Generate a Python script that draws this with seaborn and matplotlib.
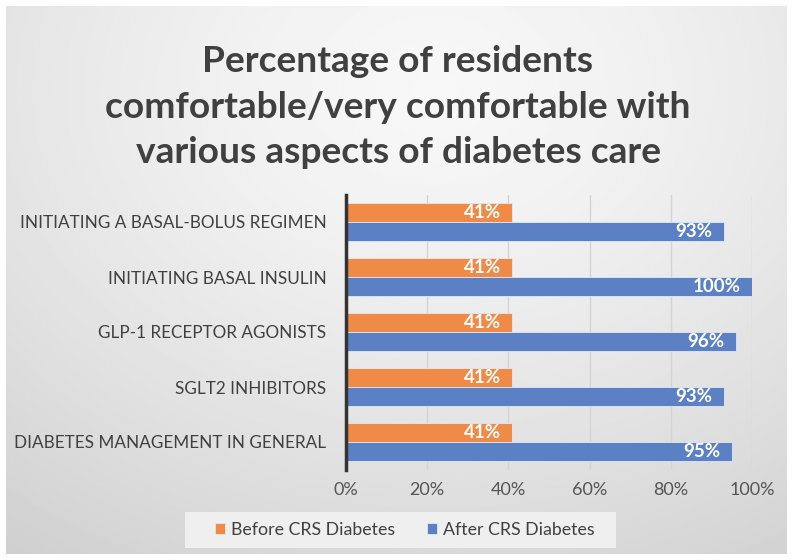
import numpy as np
import pandas as pd
import matplotlib
matplotlib.use("Agg")
import matplotlib.pyplot as plt
import matplotlib.patches as mpatches
import seaborn as sns

categories = ["INITIATING A BASAL-BOLUS REGIMEN", "INITIATING BASAL INSULIN",
              "GLP-1 RECEPTOR AGONISTS", "SGLT2 INHIBITORS",
              "DIABETES MANAGEMENT IN GENERAL"]
before = [41, 41, 41, 41, 41]
after = [93, 100, 96, 93, 95]
series = ["Before CRS Diabetes", "After CRS Diabetes"]
xticks = [0, 20, 40, 60, 80, 100]

df = pd.DataFrame({
    "category": categories * 2,
    "value": before + after,
    "series": [series[0]] * len(categories) + [series[1]] * len(categories),
})

sns.set_theme(style="white")
plt.rcParams["font.family"] = ["Lato", "DejaVu Sans"]

W, H = 793, 560
fig = plt.figure(figsize=(W / 100, H / 100), dpi=100)
fig.patch.set_facecolor("white")

# gradient background
bg = fig.add_axes([6 / W, 6 / H, 1 - 12 / W, 1 - 12 / H])
bg.set_zorder(-3)
yy, xx = np.mgrid[0:1:300j, 0:1:400j]
d = np.sqrt(((xx - 0.55) / 1.0) ** 2 + ((yy - 0.15) / 1.1) ** 2)
g = 0.97 - 0.17 * np.clip(d, 0, 1) ** 1.4
bg.imshow(g, cmap="gray", vmin=0, vmax=1, aspect="auto", extent=[0, 1, 1, 0])
bg.set_axis_off()

# legend background box
fig.patches.append(mpatches.Rectangle((185 / W, 1 - 548 / H), (616 - 185) / W, 36 / H,
                                      transform=fig.transFigure, facecolor="#efefef",
                                      edgecolor="none", zorder=-2))

colors = {series[0]: "#EF8A47", series[1]: "#5B80C3"}
ax = fig.add_axes([346 / W, 1 - 469.5 / H, (752 - 346) / W, (469.5 - 194.5) / H])
ax.patch.set_alpha(0)
sns.barplot(data=df, y="category", x="value", hue="series", order=categories,
            hue_order=series, palette=colors, saturation=1, width=0.69, ax=ax,
            edgecolor="#e4e9f2", linewidth=0.6, legend=True, orient="h")

ax.set_xlim(0, 100)
ax.set_xticks(xticks)
ax.set_xticklabels([f"{t}%" for t in xticks], fontsize=13, color="#555555")
ax.tick_params(axis="x", length=0, pad=9)
ax.tick_params(axis="y", length=0, pad=14)
for lbl in ax.get_yticklabels():
    lbl.set_fontsize(12.3)
    lbl.set_color("#404040")
ax.set_xlabel("")
ax.set_ylabel("")
ax.grid(axis="x", color="#d4d4d4", linewidth=1)
ax.set_axisbelow(True)
for s in ["top", "right", "bottom"]:
    ax.spines[s].set_visible(False)
ax.spines["left"].set_color("#333333")
ax.spines["left"].set_linewidth(2.5)

for cont in ax.containers:
    for bar in cont:
        w = bar.get_width()
        ax.text(w - 2.8, bar.get_y() + bar.get_height() / 2, f"{w:.0f}%",
                ha="right", va="center", color="white", fontsize=13.5,
                fontweight="bold")

leg = ax.legend(loc="center", bbox_to_anchor=(405 / W, 1 - 530 / H),
                bbox_transform=fig.transFigure, ncol=2, frameon=False,
                fontsize=12.8, handlelength=0.55, handleheight=0.55,
                handletextpad=0.35, columnspacing=1.8, borderpad=0,
                borderaxespad=0)
for t in leg.get_texts():
    t.set_color("#404040")

fig.text(398 / W, 1 - 107 / H,
         "Percentage of residents\ncomfortable/very comfortable with\nvarious aspects of diabetes care",
         ha="center", va="center", fontsize=26.7, fontweight="bold",
         color="#404040", linespacing=1.45)

fig.savefig("out.png", dpi=100)
